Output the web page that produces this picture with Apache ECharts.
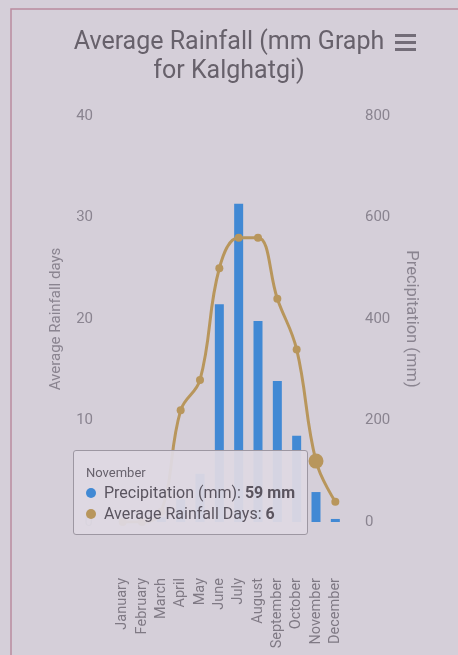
<!DOCTYPE html>
<html>
<head>
<meta charset="utf-8">
<script src="https://cdn.jsdelivr.net/npm/echarts@6/dist/echarts.min.js"></script>
<style>
  html, body { margin: 0; padding: 0; background: #d5cfd9; }
  #chartRef { width: 458px; height: 655px; }
</style>
</head>
<body>
<div id="chartRef"></div>
<script>
// data
const months = ['January', 'February', 'March', 'April', 'May', 'June', 'July', 'August', 'September', 'October', 'November', 'December']
const precipitation = [1, 1, 9, 45, 95, 429, 627, 396, 278, 170, 59, 6]   // mm, right axis
const rainDays = [0, 0, 1, 11, 14, 25, 28, 28, 22, 17, 6, 2]            // days, left axis
const hoverIndex = 10 // November, shown in the tooltip

const blue = '#4189d4'
const brown = '#b8965c'

const myChart = echarts.init(document.getElementById('chartRef'))

const option = {
  backgroundColor: '#d5cfd9',
  textStyle: { fontFamily: 'Roboto' },
  title: {
    text: 'Average Rainfall (mm Graph\nfor Kalghatgi)',
    left: 'center',
    top: 23,
    textStyle: { fontSize: 25, fontWeight: 'normal', color: '#67616b', lineHeight: 29 }
  },
  graphic: [
    // photo frame
    { type: 'rect', shape: { x: 11, y: 9, width: 470, height: 680 }, style: { fill: null, stroke: '#b98c9f', lineWidth: 1.5 }, silent: true },
    // menu icon
    { type: 'rect', shape: { x: 395, y: 34, width: 21, height: 3 }, style: { fill: '#736d78' } },
    { type: 'rect', shape: { x: 395, y: 41, width: 21, height: 3 }, style: { fill: '#736d78' } },
    { type: 'rect', shape: { x: 395, y: 48, width: 21, height: 3 }, style: { fill: '#736d78' } }
  ],
  tooltip: {
    trigger: 'item',
    triggerOn: 'none',
    alwaysShowContent: true,
    transitionDuration: 0,
    position: [73, 450],
    backgroundColor: 'rgba(222,217,226,0.94)',
    borderColor: '#9d97a2',
    borderWidth: 1,
    borderRadius: 3,
    padding: [13, 12],
    extraCssText: 'box-sizing:border-box;width:235px;height:85px;box-shadow:none;',
    formatter: function (params) {
      const i = params.dataIndex
      const dot = c => '<span style="display:inline-block;width:10px;height:10px;border-radius:5px;background:' + c + ';margin-right:8px;vertical-align:0px"></span>'
      return '<div style="font-size:13px;line-height:18px;color:#67616c">' + months[i] + '</div>' +
        '<div style="font-size:16px;line-height:21px;color:#5a545f">' + dot(blue) + 'Precipitation (mm): <b>' + precipitation[i] + ' mm</b></div>' +
        '<div style="font-size:16px;line-height:21px;color:#5a545f">' + dot(brown) + 'Average Rainfall Days: <b>' + rainDays[i] + '</b></div>'
    }
  },
  grid: { left: 113, right: 113, top: 116, bottom: 133 },
  xAxis: {
    type: 'category',
    data: months,
    axisLine: { show: false },
    axisTick: { show: false },
    axisLabel: { interval: 0, rotate: 90, margin: 56, fontSize: 14.5, color: '#7f7984' }
  },
  yAxis: [
    {
      type: 'value',
      min: 0,
      max: 40,
      interval: 10,
      name: 'Average Rainfall days',
      nameLocation: 'middle',
      nameGap: 49,
      nameTextStyle: { fontSize: 15, color: '#8a8490' },
      axisLabel: { margin: 20, fontSize: 15, color: '#8a8490' },
      splitLine: { show: false }
    },
    {
      type: 'value',
      min: 0,
      max: 800,
      interval: 200,
      name: 'Precipitation (mm)',
      nameLocation: 'middle',
      nameRotate: -90,
      nameGap: 58,
      nameTextStyle: { fontSize: 16.5, color: '#8a8490' },
      axisLabel: { margin: 20, fontSize: 15, color: '#8a8490' },
      splitLine: { show: false }
    }
  ],
  series: [
    {
      name: 'Precipitation (mm)',
      type: 'bar',
      yAxisIndex: 1,
      barWidth: 9,
      itemStyle: { color: blue },
      emphasis: { disabled: true },
      data: precipitation
    },
    {
      name: 'Average Rainfall Days',
      type: 'line',
      yAxisIndex: 0,
      smooth: 0.4,
      symbol: 'circle',
      symbolSize: 8,
      showAllSymbol: true,
      lineStyle: { color: brown, width: 3 },
      itemStyle: { color: brown },
      emphasis: { disabled: true },
      data: rainDays.map((v, i) => i === hoverIndex ? { value: v, symbolSize: 15 } : v)
    }
  ]
}
option && myChart.setOption(option)
myChart.dispatchAction({ type: 'showTip', seriesIndex: 1, dataIndex: hoverIndex })
</script>
</body>
</html>
